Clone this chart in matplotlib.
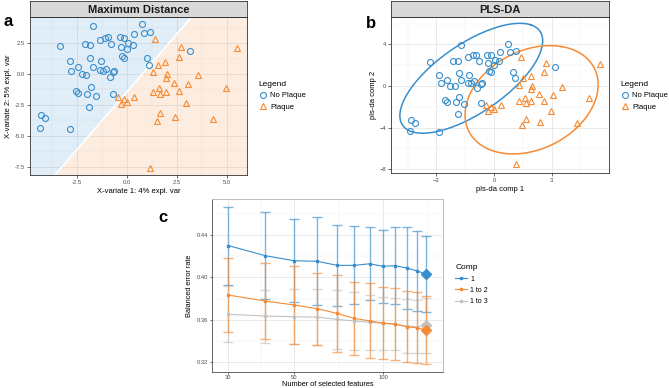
import numpy as np
import matplotlib.pyplot as plt
from matplotlib.lines import Line2D

plt.rcParams['font.family'] = ['Liberation Sans', 'DejaVu Sans']

BLUE = '#388ECC'
ORANGE = '#F68B33'
GREY = '#C2C2C2'

# sample scores on component 1 / component 2
no_plaque_x = [-1.72, 0.73, -3.35, -2.12, -1.85, -1.37, -1.08, -0.93, -0.80, -0.37, -0.13, -0.30,
               0.03, 0.00, 0.28, 0.33, 0.85, 1.15, 3.17, 1.00, 1.10, -0.25, -0.13, -2.87,
               -1.83, -1.32, -1.70, -2.43, -2.78, -1.37, -1.18, -1.03, -0.70, -0.63, -2.27, -2.05,
               -0.87, -2.55, -2.43, -2.00, -1.80, -1.57, -0.70, -1.88, -4.30, -4.12, -4.37, -2.87]
no_plaque_y = [3.90, 4.03, 2.28, 2.39, 2.37, 2.77, 2.93, 3.00, 2.39, 3.00, 2.93, 2.20,
               2.47, 2.00, 2.37, 3.23, 3.28, 3.39, 1.85, 1.32, 0.73, 1.45, 1.32, 1.08,
               1.26, 1.08, 0.54, 0.54, 0.27, 0.32, 0.24, 0.43, 0.19, 0.27, 0.03, -0.05,
               -0.21, -1.34, -1.56, -1.59, -1.05, -1.77, -1.64, -2.66, -3.30, -3.52, -4.33, -4.41]
plaque_x = [1.42, 2.70, 2.62, 1.92, 1.53, 1.30, 2.00, 1.95, 3.53, 2.33, 3.05, 1.62, 1.32, 1.67, 1.95,
            2.62, 4.97, -0.43, -0.13, 0.37, 0.00, -0.30, 2.97, 1.67, 2.38, 1.48, 4.32, 1.17, 5.50]
plaque_y = [2.82, 2.20, 1.34, 0.97, 0.75, 0.13, -0.03, -0.30, -0.08, -0.75, -0.83, -1.15, -1.45, -1.61, -1.48,
            -1.40, -1.15, -1.83, -1.99, -1.85, -2.23, -2.45, -2.37, -3.17, -3.50, -3.76, -3.60, -7.55, 2.12]

# max distance decision boundary: y = slope * x + intercept
boundary_slope = 1.867
boundary_intercept = -1.43

# 95% ellipses (centre x, centre y, semi-major, semi-minor, angle in degrees)
ellipse_no_plaque = (-1.18, 0.74, 6.0, 2.4, 58.9)
ellipse_plaque = (1.96, -1.33, 5.35, 3.24, 73.2)

# tuning of keepX
n_features = [30, 40, 50, 60, 70, 80, 90, 100, 110, 120, 130, 140]
ber_comp1 = [0.4300, 0.4205, 0.4158, 0.4152, 0.4114, 0.4114, 0.4129, 0.4105, 0.4110, 0.4089, 0.4062, 0.4032]
sd_comp1 = [0.0368, 0.0410, 0.0390, 0.0415, 0.0383, 0.0368, 0.0346, 0.0346, 0.0363, 0.0383, 0.0376, 0.0361]
ber_comp2 = [0.3834, 0.3777, 0.3740, 0.3705, 0.3660, 0.3614, 0.3590, 0.3570, 0.3560, 0.3535, 0.3525, 0.3504]
sd_comp2 = [0.0345, 0.0355, 0.0367, 0.0340, 0.0360, 0.0346, 0.0353, 0.0343, 0.0338, 0.0333, 0.0335, 0.0320]
ber_comp3 = [0.3652, 0.3636, 0.3629, 0.3626, 0.3604, 0.3589, 0.3576, 0.3567, 0.3557, 0.3541, 0.3535, 0.3548]
sd_comp3 = [0.0265, 0.0250, 0.0260, 0.0263, 0.0280, 0.0270, 0.0260, 0.0250, 0.0245, 0.0255, 0.0250, 0.0260]
best_keepx = [140, 140, 140]

W, H = 669, 388
fig = plt.figure(figsize=(W / 100, H / 100), dpi=100)


def box(x0, y0, x1, y1):
    # pixel box (top-left origin) -> figure fraction
    return [x0 / W, 1 - y1 / H, (x1 - x0) / W, (y1 - y0) / H]


def style(ax, border='#333333'):
    for s in ax.spines.values():
        s.set_color(border)
        s.set_linewidth(0.6)
    ax.grid(True, which='major', color='#E6E6E6', lw=0.6)
    ax.grid(True, which='minor', color='#F0F0F0', lw=0.35)
    ax.set_axisbelow(True)
    ax.tick_params(which='major', length=2, width=0.5, color='#333333',
                   labelsize=4.2, labelcolor='#4D4D4D', pad=1.5)
    ax.tick_params(which='minor', length=0)


def strip(x0, x1, title):
    sax = fig.add_axes(box(x0, 1, x1, 17))
    sax.set_facecolor('#D9D9D9')
    sax.set_xticks([])
    sax.set_yticks([])
    for s in sax.spines.values():
        s.set_color('#333333')
        s.set_linewidth(0.6)
    sax.text(0.5, 0.45, title, ha='center', va='center', fontsize=8, fontweight='bold',
             color='#1A1A1A', transform=sax.transAxes)


def scatter_groups(ax):
    ax.plot(no_plaque_x, no_plaque_y, 'o', ls='none', ms=4.3, mfc='none', mec=BLUE, mew=0.8, zorder=3)
    ax.plot(plaque_x, plaque_y, '^', ls='none', ms=5, mfc='none', mec=ORANGE, mew=0.8, zorder=3)


def group_legend(x, y):
    handles = [Line2D([], [], marker='o', ls='none', ms=4.3, mfc='none', mec=BLUE, mew=0.8),
               Line2D([], [], marker='^', ls='none', ms=5, mfc='none', mec=ORANGE, mew=0.8)]
    fig.legend(handles, ['No Plaque', 'Plaque'], title='Legend', loc='upper left',
               bbox_to_anchor=(x / W, 1 - y / H), frameon=False, fontsize=5.5, title_fontsize=6,
               alignment='left', borderpad=0, handletextpad=0.3, labelspacing=0.55, handlelength=1.2)


# ---- a: maximum distance ----
ax_a = fig.add_axes(box(30, 17, 247, 175))
style(ax_a)
xlim_a = (-4.85, 6.0)
ylim_a = (-8.15, 4.6)
xs = np.array(xlim_a)
ys = boundary_slope * xs + boundary_intercept
ax_a.fill_between(xs, ys, ylim_a[1] + 5, color=BLUE, alpha=0.15, lw=0, zorder=1)
ax_a.fill_between(xs, ylim_a[0] - 5, ys, color=ORANGE, alpha=0.15, lw=0, zorder=1)
ax_a.plot(xs, ys, color='white', lw=1.2, zorder=1.5)
scatter_groups(ax_a)
ax_a.set_xlim(xlim_a)
ax_a.set_ylim(ylim_a)
ax_a.set_xticks([-2.5, 0, 2.5, 5.0])
ax_a.set_xticklabels(['-2.5', '0.0', '2.5', '5.0'])
ax_a.set_yticks([-7.5, -5.0, -2.5, 0, 2.5])
ax_a.set_yticklabels(['-7.5', '-5.0', '-2.5', '0.0', '2.5'])
ax_a.set_xticks([-3.75, -1.25, 1.25, 3.75], minor=True)
ax_a.set_yticks([-6.25, -3.75, -1.25, 1.25, 3.75], minor=True)
ax_a.set_xlabel('X-variate 1: 4% expl. var', fontsize=5.5, labelpad=2)
ax_a.set_ylabel('X-variate 2: 5% expl. var', fontsize=5.5, labelpad=2)
strip(30, 247, 'Maximum Distance')
group_legend(255, 77)

# ---- b: PLS-DA with 95% ellipses ----
ax_b = fig.add_axes(box(391, 17, 609, 173))
style(ax_b)
scatter_groups(ax_b)
t = np.linspace(0, 2 * np.pi, 200)
for (cx, cy, a, b, ang), col in [(ellipse_no_plaque, BLUE), (ellipse_plaque, ORANGE)]:
    th = np.deg2rad(ang)
    ex = cx + a * np.cos(t) * np.cos(th) - b * np.sin(t) * np.sin(th)
    ey = cy + a * np.cos(t) * np.sin(th) + b * np.sin(t) * np.cos(th)
    ax_b.plot(ex, ey, color=col, lw=1.1, zorder=2)
ax_b.set_xlim(-5.36, 5.99)
ax_b.set_ylim(-8.37, 6.63)
ax_b.set_xticks([-3, 0, 3])
ax_b.set_yticks([-8, -4, 0, 4])
ax_b.set_xticks([-4.5, -1.5, 1.5, 4.5], minor=True)
ax_b.set_yticks([-6, -2, 2, 6], minor=True)
ax_b.set_xlabel('pls-da comp 1', fontsize=5.5, labelpad=2)
ax_b.set_ylabel('pls-da comp 2', fontsize=5.5, labelpad=2)
strip(391, 609, 'PLS-DA')
group_legend(617, 77)

# ---- c: tuning ----
ax_c = fig.add_axes(box(212, 199, 443, 372))
style(ax_c, border='#B3B3B3')
ax_c.spines['bottom'].set_color('#4D4D4D')
ax_c.spines['left'].set_color('#4D4D4D')
ax_c.tick_params(which='major', length=1.5, pad=1)
series = [(ber_comp1, sd_comp1, BLUE, '1'),
          (ber_comp3, sd_comp3, GREY, '1 to 3'),
          (ber_comp2, sd_comp2, ORANGE, '1 to 2')]
for ber, sd, col, lab in series:
    ax_c.errorbar(n_features, ber, yerr=sd, fmt='none', ecolor=col, alpha=0.65,
                  elinewidth=1.0, capsize=3.8, capthick=1.0, zorder=2)
for i, (ber, sd, col, lab) in enumerate(series):
    ax_c.plot(n_features, ber, '-s', color=col, lw=0.8, ms=2.0, zorder=3)
    k = n_features.index(best_keepx[i])
    ax_c.plot(n_features[k], ber[k], 'D', color=col, ms=5.5, zorder=4)
ax_c.set_xscale('log')
ax_c.set_xlim(26.4, 159.4)
ax_c.set_ylim(0.3108, 0.474)
ax_c.set_xticks([30, 50, 100])
ax_c.set_xticklabels(['30', '50', '100'])
ax_c.set_xticks([38.7, 70.7, 141.4], minor=True)
ax_c.xaxis.set_minor_formatter(plt.NullFormatter())
ax_c.set_yticks([0.32, 0.36, 0.40, 0.44])
ax_c.set_yticklabels(['0.32', '0.36', '0.40', '0.44'])
ax_c.set_yticks([0.34, 0.38, 0.42, 0.46], minor=True)
ax_c.set_xlabel('Number of selected features', fontsize=5.3, labelpad=0.5)
ax_c.set_ylabel('Balanced error rate', fontsize=5.3, labelpad=3)
comp_handles = [Line2D([], [], color=BLUE, marker='s', ms=2.0, lw=0.8),
                Line2D([], [], color=ORANGE, marker='s', ms=2.0, lw=0.8),
                Line2D([], [], color=GREY, marker='s', ms=2.0, lw=0.8)]
fig.legend(comp_handles, ['1', '1 to 2', '1 to 3'], title='Comp', loc='upper left',
           bbox_to_anchor=(452 / W, 1 - 261 / H), frameon=False, fontsize=5, title_fontsize=6,
           alignment='left', borderpad=0, handletextpad=0.5, labelspacing=0.6, handlelength=1.6)

# panel letters
fig.text(3 / W, 1 - 22 / H, 'a', fontsize=12, fontweight='bold', va='center')
fig.text(366 / W, 1 - 23 / H, 'b', fontsize=12, fontweight='bold', va='center')
fig.text(158 / W, 1 - 218 / H, 'c', fontsize=12, fontweight='bold', va='center')

fig.savefig('out.png', dpi=100)
